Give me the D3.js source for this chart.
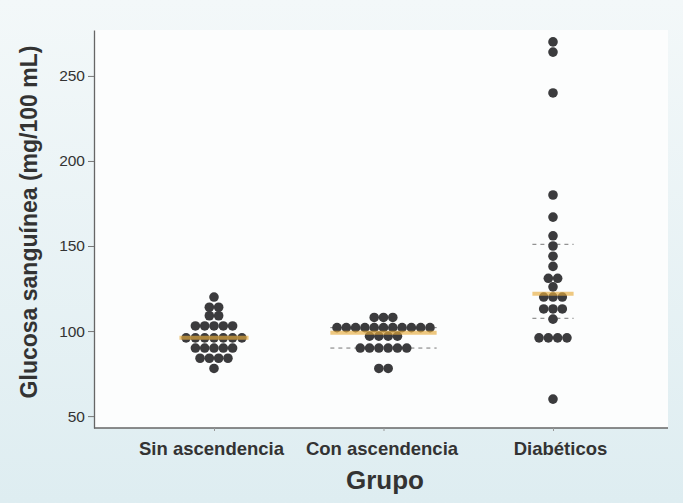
<!DOCTYPE html>
<html><head><meta charset="utf-8">
<script src="https://cdn.jsdelivr.net/npm/d3@7"></script>
<style>body{margin:0;background:#e6f1f4;}svg{display:block;}</style>
</head><body>
<svg id="c" width="683" height="503"></svg>
<script>
const groups = ["Sin ascendencia", "Con ascendencia", "Diabéticos"];
const sinAscendencia = [120,114,114,109,109,103,103,103,103,103,96,96,96,96,96,96,96,90,90,90,90,90,84,84,84,84,78];
const conAscendencia = [108,108,108,102,102,102,102,102,102,102,102,102,102,102,97,97,97,97,90,90,90,90,90,90,78,78];
const diabeticos = [270,264,240,180,167,156,150,144,138,131,131,126,120,120,120,113,113,113,107,96,96,96,96,60];
const medians = [96, 99, 122];
const quartilesLow = [null, 90, 107.5];
const quartilesHigh = [null, 102, 151];
const yTicks = [50, 100, 150, 200, 250];
const seriesValues = [sinAscendencia, conAscendencia, diabeticos];

(function(){
const svg = d3.select("#c");
const font = "'Liberation Sans', Arial, sans-serif";

const bg = svg.append("defs").append("linearGradient").attr("id","bgg").attr("x1",0).attr("y1",0).attr("x2",0).attr("y2",1);
bg.append("stop").attr("offset","0%").attr("stop-color","#f3f8f9");
bg.append("stop").attr("offset","100%").attr("stop-color","#deedf1");
svg.append("rect").attr("width",683).attr("height",503).attr("fill","url(#bgg)");

const pl = 94, pr = 668, pt = 30, pb = 428;
svg.append("rect").attr("x",pl).attr("y",pt).attr("width",pr-pl).attr("height",pb-pt).attr("fill","#fcfdfd");

const y = d3.scaleLinear().domain([43, 277]).range([pb, pt]);
const x = d3.scalePoint().domain(groups).range([214, 553]);

const spacing = 9.3, r = 4.8;

const yAxis = svg.append("g").attr("transform",`translate(${pl},0)`)
  .call(d3.axisLeft(y).tickValues(yTicks).tickSize(6).tickSizeOuter(0));
yAxis.select(".domain").attr("stroke","#666").attr("stroke-width",1.3);
yAxis.selectAll(".tick line").attr("stroke","#777");
yAxis.selectAll(".tick text").attr("font-family",font).attr("font-size",15.5).attr("fill","#333").attr("x",-9);

const xAxis = svg.append("g").attr("transform",`translate(0,${pb})`)
  .call(d3.axisBottom(x).tickSize(3).tickSizeOuter(0));
xAxis.select(".domain").attr("d",`M${pl},0H${pr}`).attr("stroke","#666").attr("stroke-width",1.3);
xAxis.selectAll(".tick line").attr("stroke","#999");
xAxis.selectAll(".tick text").attr("font-family",font).attr("font-size",18.5).attr("font-weight","bold").attr("fill","#333")
  .attr("y",27).attr("dy",0).attr("x",(d,i) => [-3, -2, 7][i]);

svg.append("text").attr("x",385).attr("y",489).attr("text-anchor","middle")
  .attr("font-family",font).attr("font-size",26).attr("font-weight","bold").attr("fill","#333").text("Grupo");
svg.append("text").attr("transform","translate(37,222) rotate(-90)").attr("text-anchor","middle")
  .attr("font-family",font).attr("font-size",23).attr("font-weight","bold").attr("fill","#333")
  .text("Glucosa sanguínea (mg/100 mL)");

groups.forEach((g, gi) => {
  const vals = seriesValues[gi];
  const bins = d3.rollups(vals, v => v.length, d => d);
  const maxCount = d3.max(bins, b => b[1]);
  const half = Math.max(maxCount, 4) * spacing / 2 + 2;
  const cx = x(g);
  [quartilesLow[gi], quartilesHigh[gi]].filter(q => q != null).forEach(q => {
    svg.append("line").attr("x1",cx-half).attr("x2",cx+half).attr("y1",y(q)).attr("y2",y(q))
      .attr("stroke","#777").attr("stroke-width",1).attr("stroke-dasharray","4,4");
  });
  const pts = [];
  bins.forEach(([v, n]) => {
    for (let i = 0; i < n; i++) pts.push({v, off: (i - (n-1)/2) * spacing});
  });
  svg.append("g").selectAll("circle").data(pts).join("circle")
    .attr("cx", d => cx + d.off).attr("cy", d => y(d.v)).attr("r", r)
    .attr("fill","#3b3b3d");
  svg.append("line").attr("x1",cx-half).attr("x2",cx+half).attr("y1",y(medians[gi])).attr("y2",y(medians[gi]))
    .attr("stroke","#e8ad3e").attr("stroke-width",4).attr("opacity",0.65);
});
})();
</script>
</body></html>
